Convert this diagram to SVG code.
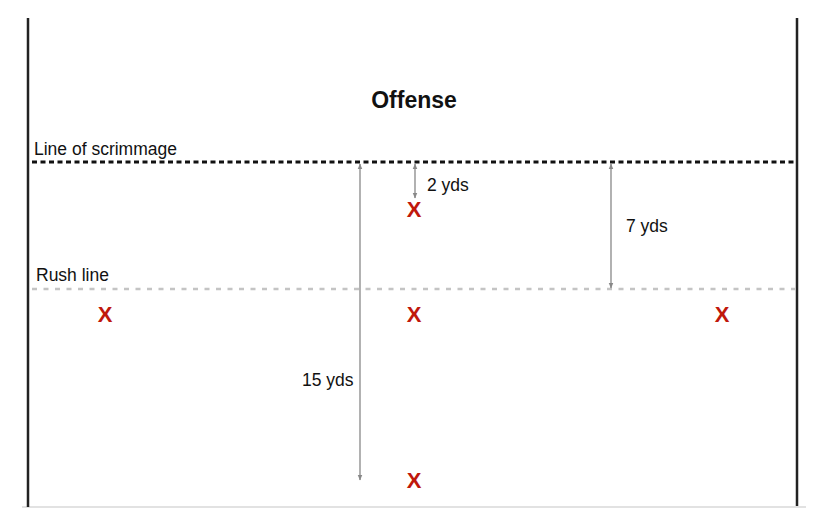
<svg xmlns="http://www.w3.org/2000/svg" width="830" height="525" viewBox="0 0 830 525">
<style>
.lbl{font-family:"Liberation Sans",Arial,sans-serif;font-size:17.5px;fill:#111}
.x{font-family:"Liberation Sans",Arial,sans-serif;font-size:22px;font-weight:bold;fill:#c0180c;text-anchor:middle}
.dim{stroke:#888;stroke-width:1.3;fill:none;marker-start:url(#ah);marker-end:url(#ah)}
</style>
<defs>
<marker id="ah" viewBox="0 0 10 10" refX="9" refY="5" markerWidth="6" markerHeight="6" orient="auto-start-reverse" markerUnits="userSpaceOnUse">
<path d="M0,1 L10,5 L0,9 z" fill="#888"/>
</marker>
</defs>
<rect width="830" height="525" fill="#fff"/>
<g id="field">
<line x1="22" y1="507" x2="806" y2="507" stroke="#d8d8d8" stroke-width="1.5"/>
<line x1="28" y1="18" x2="28" y2="507" stroke="#222" stroke-width="2.5"/>
<line x1="797" y1="18" x2="797" y2="506" stroke="#222" stroke-width="2.5"/>
<line x1="32" y1="162" x2="795" y2="162" stroke="#111" stroke-width="3" stroke-dasharray="5 3.5"/>
<line x1="32" y1="289" x2="795" y2="289" stroke="#c4c4c4" stroke-width="2.5" stroke-dasharray="5 6.5"/>
</g>
<g id="labels">
<text x="414" y="108" text-anchor="middle" style="font-family:'Liberation Sans',Arial,sans-serif;font-size:23px;font-weight:bold;fill:#111">Offense</text>
<text class="lbl" x="34" y="155">Line of scrimmage</text>
<text class="lbl" x="36" y="281">Rush line</text>
</g>
<g id="connectors">
<line class="dim" x1="415" y1="164" x2="415" y2="198"/>
<line class="dim" x1="611" y1="164" x2="611" y2="288"/>
<line class="dim" x1="360" y1="164" x2="360" y2="480"/>
<text class="lbl" x="427" y="191">2 yds</text>
<text class="lbl" x="626" y="232">7 yds</text>
<text class="lbl" x="302" y="386">15 yds</text>
</g>
<g id="player-1"><text class="x" x="105" y="322">X</text></g>
<g id="player-2"><text class="x" x="414" y="322">X</text></g>
<g id="player-3"><text class="x" x="722" y="322">X</text></g>
<g id="player-4"><text class="x" x="414" y="217">X</text></g>
<g id="player-5"><text class="x" x="414" y="488">X</text></g>
</svg>
